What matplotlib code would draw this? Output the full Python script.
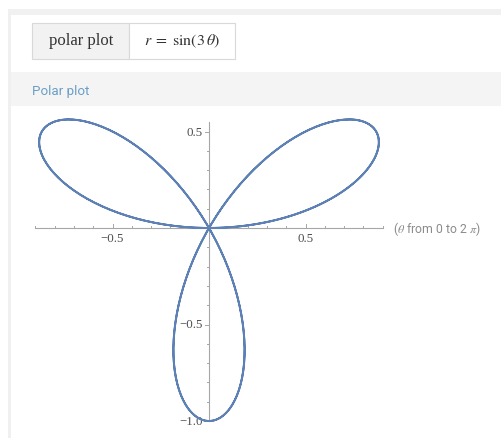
import numpy as np
import matplotlib
matplotlib.use("Agg")
import matplotlib.pyplot as plt
from matplotlib.patches import Rectangle

# ---- data ----
k = 3                       # r = sin(k * theta)
theta_start, theta_end = 0.0, 2 * np.pi
n_points = 721
x_major = [-0.5, 0.5]
x_major_labels = ["\u22120.5", "0.5"]
x_minor = [-0.9, -0.8, -0.7, -0.6, -0.4, -0.3, -0.2, -0.1, 0.1, 0.2, 0.3, 0.4, 0.6, 0.7, 0.8, 0.9]
y_major = [-1.0, -0.5, 0.5]
y_major_labels = ["\u22121.0", "\u22120.5", "0.5"]
y_minor = [-0.9, -0.8, -0.7, -0.6, -0.4, -0.3, -0.2, -0.1, 0.1, 0.2, 0.3, 0.4]
x_axis_range = (-0.90, 0.90)
y_axis_range = (-1.0, 0.55)

theta = np.linspace(theta_start, theta_end, n_points)
r = np.sin(k * theta)
xs = r * np.cos(theta)
ys = r * np.sin(theta)

W, H = 501, 439
plt.rcParams['mathtext.fontset'] = 'stix'
fig = plt.figure(figsize=(W / 100, H / 100), dpi=100)

# background in pixel coordinates
bg = fig.add_axes([0, 0, 1, 1], zorder=0)
bg.set_xlim(0, W)
bg.set_ylim(H, 0)
bg.axis('off')
bg.add_patch(Rectangle((8, 10), W - 8, 6, color='#f1f1f1', lw=0))
bg.add_patch(Rectangle((8, 10), 3, H - 10, color='#f0f0f0', lw=0))
bg.add_patch(Rectangle((11, 73), W - 11, 34, color='#f4f4f4', lw=0))
# header box
bg.add_patch(Rectangle((32.5, 23.5), 97, 36, facecolor='#f2f2f2', edgecolor='#d9d9d9', lw=0.8))
bg.add_patch(Rectangle((129.5, 23.5), 106, 36, facecolor='white', edgecolor='#d9d9d9', lw=0.8))
bg.text(81, 41, "polar plot", ha='center', va='center', fontsize=12,
        family='Liberation Serif', color='#333333')
bg.text(182.5, 41.5, r"$r\;=\;\sin(3\,\theta)$", ha='center', va='center', fontsize=11.5,
        color='#333333')
bg.text(32, 91, "Polar plot", ha='left', va='center', fontsize=9.6, family='Roboto',
        color='#6a9ec6')

# plot axes: equal scale in pixels
S = 193.0
ox, oy = 209.0, 229.0
ax = fig.add_axes([0, 0, 1, 1], zorder=1)
ax.patch.set_alpha(0)
ax.set_xlim(-ox / S, (W - ox) / S)
ax.set_ylim(-(H - oy) / S, oy / S)

axis_col = '#a6a6a6'
ax.plot(x_axis_range, [0, 0], color=axis_col, lw=0.8, zorder=1)
ax.plot([0, 0], y_axis_range, color=axis_col, lw=0.8, zorder=1)

px = 1.0 / S
for v in x_minor:
    ax.plot([v, v], [0, 2.5 * px], color=axis_col, lw=0.7)
for v in x_major:
    ax.plot([v, v], [0, 4.5 * px], color=axis_col, lw=0.7)
for v in y_minor:
    ax.plot([-2.5 * px, 0], [v, v], color=axis_col, lw=0.7)
for v in y_major:
    ax.plot([-4.5 * px, 0], [v, v], color=axis_col, lw=0.7)

for v, lab in zip(x_major, x_major_labels):
    ax.text(v, -10 * px, lab, ha='center', va='center', fontsize=9.3,
            family='Liberation Serif', color='#4d4d4d')
for v, lab in zip(y_major, y_major_labels):
    ax.text(-6 * px, v, lab, ha='right', va='center', fontsize=9.3,
            family='Liberation Serif', color='#4d4d4d')

ax.text(x_axis_range[1] + 10 * px, 0, r"($\theta$ from 0 to 2 $\pi$)", ha='left', va='center',
        fontsize=8.8, family='Roboto', color='#8c8c8c')

ax.plot(xs, ys, color='#5e81b5', lw=1.4, zorder=3, solid_joinstyle='round')
ax.axis('off')

fig.savefig("out.png", dpi=100)
